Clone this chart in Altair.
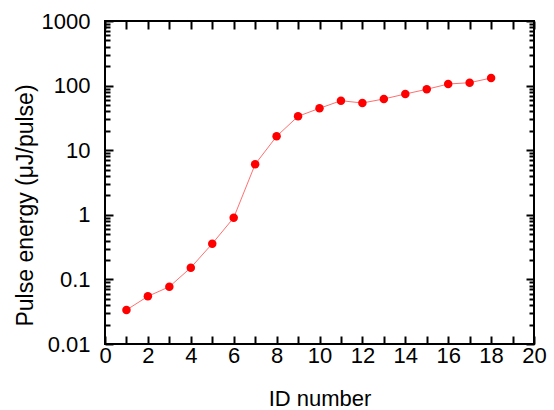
import altair as alt
import pandas as pd

ids = list(range(1, 19))
energy = [0.0336, 0.0547, 0.077, 0.152, 0.357, 0.90, 6.05, 16.4, 33.5, 44.5,
          58.4, 53.8, 62.1, 74.1, 87.7, 105.8, 110.9, 131.0]
x_ticks = list(range(0, 21))
x_labels = list(range(0, 21, 2))
y_decades = [0.01, 0.1, 1, 10, 100, 1000]
y_minor = [round(m * d, 6) for d in [0.01, 0.1, 1, 10, 100] for m in range(1, 10)] + [1000]

df = pd.DataFrame({"id": ids, "energy": energy})

W, H = 429, 323
FONT = "Liberation Sans"

xs = alt.Scale(domain=[0, 20], nice=False, zero=False)
ys = alt.Scale(type="log", domain=[0.01, 1000], nice=False)

major_test = "abs(log(datum.value)/LN10 - round(log(datum.value)/LN10)) < 0.000001"
ytick_size = {"condition": {"test": major_test, "value": 8}, "value": 5}

base = alt.Chart(df)

line = base.mark_line(color="#ff7070", strokeWidth=1).encode(
    x=alt.X("id:Q", scale=xs, axis=alt.Axis(
        values=x_labels, ticks=False, domain=False, title="ID number",
        labelPadding=18, labelBaseline="alphabetic", labelFontSize=22,
        labelFlush=False, labelOverlap=False,
        titleY=61, titleBaseline="alphabetic", titleFontSize=22)),
    y=alt.Y("energy:Q", scale=ys, axis=alt.Axis(
        values=y_decades, ticks=False, domain=False,
        title="Pulse energy (μJ/pulse)",
        labelExpr="datum.value < 1 ? format(datum.value, '.2~f') : format(datum.value, 'd')",
        labelPadding=15, labelFontSize=22, labelFlush=False, labelOverlap=False,
        titleX=-73, titleY=184, titleBaseline="alphabetic", titleAlign="center",
        titleAngle=270, titleFontSize=23)),
)

points = base.mark_circle(color="#ff0000", size=72, opacity=1).encode(
    x=alt.X("id:Q", scale=xs, axis=None),
    y=alt.Y("energy:Q", scale=ys, axis=None),
)

ticks_a = base.mark_point(opacity=0).encode(
    x=alt.X("id:Q", scale=xs, axis=alt.Axis(
        orient="top", offset=-H, values=x_ticks, labels=False, domain=False,
        title="", tickSize=8, tickWidth=2, tickColor="black")),
    y=alt.Y("energy:Q", scale=ys, axis=alt.Axis(
        orient="right", offset=-W, values=y_minor, labels=False, domain=False,
        title="", tickSize=ytick_size, tickWidth=2, tickColor="black")),
)

ticks_b = base.mark_point(opacity=0).encode(
    x=alt.X("id:Q", scale=xs, axis=alt.Axis(
        orient="bottom", offset=-H, values=x_ticks, labels=False, domain=False,
        title="", tickSize=8, tickWidth=2, tickColor="black")),
    y=alt.Y("energy:Q", scale=ys, axis=alt.Axis(
        orient="left", offset=-W, values=y_minor, labels=False, domain=False,
        title="", tickSize=ytick_size, tickWidth=2, tickColor="black")),
)

chart = alt.layer(line, points, ticks_a, ticks_b).resolve_axis(
    x="independent", y="independent"
).properties(
    width=W, height=H,
    padding={"left": 105, "top": 21, "right": 20, "bottom": 66},
    autosize="none",
).configure_view(
    stroke="black", strokeWidth=2
).configure_axis(
    grid=False, labelFont=FONT, titleFont=FONT, labelColor="black",
    titleColor="black", titleFontWeight="normal",
)

chart.save("out.html", embed_options={"renderer": "svg", "actions": False})
